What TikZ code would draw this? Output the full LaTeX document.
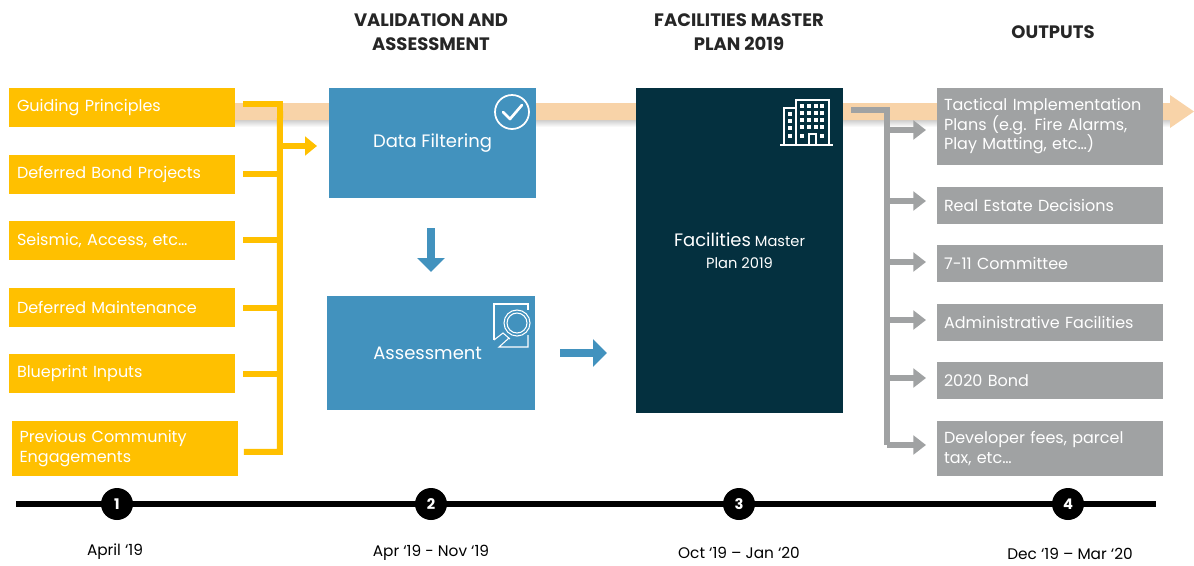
\documentclass[tikz,border=0pt]{standalone}
\usepackage{fontspec}
\setmainfont{Poppins}
\usetikzlibrary{arrows.meta}
\definecolor{yel}{HTML}{FFC000}
\definecolor{blu}{HTML}{4292BE}
\definecolor{drk}{HTML}{04303F}
\definecolor{gry}{HTML}{A0A2A3}
\definecolor{org}{HTML}{F8D3A8}
\tikzset{
  box/.style={rectangle,inner sep=0pt,text=white,align=left,font=\fontsize{12}{14.6}\selectfont},
  ybox/.style={box,fill=yel,minimum width=169.5pt,text width=157.5pt},
  gbox/.style={box,fill=gry,minimum width=169.5pt,text width=159pt},
  bbox/.style={rectangle,inner sep=0pt,fill=blu,text=white,align=center,font=\fontsize{13.5}{16}\selectfont},
  head/.style={inner sep=0pt,align=center,font=\fontsize{13.5}{18}\selectfont\bfseries,text=black!85},
  ybus/.style={draw=yel,line width=4.5pt},
  gbus/.style={draw=gry,line width=4.5pt},
  yarr/.style={ybus,-{Triangle[length=9pt,width=14pt]}},
  garr/.style={gbus,-{Triangle[length=9.5pt,width=14pt]}},
  barr/.style={draw=blu,line width=5.5pt,-{Triangle[length=10.5pt,width=20pt]}},
  icon/.style={draw=white,line width=0.8pt},
  dot/.style={circle,fill=black,minimum size=24pt,inner sep=0pt,text=white,font=\fontsize{11}{13}\selectfont\bfseries},
  date/.style={inner sep=0pt,font=\fontsize{11.5}{14}\selectfont,text=black},
}
\begin{document}
\begin{tikzpicture}[x=0.75pt,y=-0.75pt]
\useasboundingbox (0,0) rectangle (1194,565);
% band
\shade[top color=black!22,bottom color=white] (235,119) rectangle (1170,127);
\coordinate (bandL) at (235,111.5);
\coordinate (bandR) at (1194,111.5);
\fill[org] (235,103) -- (1170,103) -- (1170,95) -- (1194,111.5) -- (1170,128) -- (1170,120) -- (235,120) -- cycle;
% yellow boxes
\node[ybox,minimum height=29.25pt] (gp) at (122,107.5) {Guiding Principles};
\node[ybox,minimum height=29.25pt] (dbp) at (122,174.5) {Deferred Bond Projects};
\node[ybox,minimum height=29.25pt] (sa) at (122,240.5) {Seismic, Access, etc…};
\node[ybox,minimum height=29.25pt] (dm) at (122,307.5) {Deferred Maintenance};
\node[ybox,minimum height=29.25pt] (bi) at (122,373.5) {Blueprint Inputs};
\node[ybox,minimum height=41.25pt] (pce) at (124.5,448.5) {Previous Community\\Engagements};
% blue boxes
\node[bbox,minimum width=155.25pt,minimum height=82.5pt] (df) at (432.5,143) {Data Filtering};
\node[bbox,minimum width=156pt,minimum height=85.5pt] (as) at (431,353) {\hspace*{-5pt}Assessment};
% master plan
\node[rectangle,inner sep=0pt,fill=drk,text=white,align=center,minimum width=155.25pt,minimum height=243.75pt,font=\fontsize{11}{16.5}\selectfont] (fmp) at (739.5,250.5) {{\fontsize{13.5}{16.5}\selectfont Facilities} Master\\Plan 2019};
% grey boxes
\node[gbox,minimum height=57.75pt] (g1) at (1050,126.5) {Tactical Implementation\\Plans (e.g. Fire Alarms,\\Play Matting, etc…)};
\node[gbox,minimum height=27.75pt] (g2) at (1050,205.5) {Real Estate Decisions};
\node[gbox,minimum height=27.75pt] (g3) at (1050,263.5) {7-11 Committee};
\node[gbox,minimum height=27.75pt] (g4) at (1050,322.5) {Administrative Facilities};
\node[gbox,minimum height=27.75pt] (g5) at (1050,380.5) {2020 Bond};
\node[gbox,minimum height=41.25pt] (g6) at (1050,448.5) {Developer fees, parcel\\tax, etc…};
% yellow bus
\coordinate (yt) at (280,111);
\coordinate (yb) at (280,445);
\coordinate (ytip) at (317,146);
\draw[ybus,line cap=butt] ([xshift=6pt,yshift=2.6pt]gp.east) -| (yb);
\draw[ybus] ([xshift=6pt,yshift=0.4pt]dbp.east) -- ++(37,0);
\draw[ybus] ([xshift=6pt,yshift=0.4pt]sa.east) -- ++(37,0);
\draw[ybus] ([xshift=6pt]dm.east) -- ++(37,0);
\draw[ybus] ([xshift=6pt]bi.east) -- ++(37,0);
\draw[ybus] ([xshift=4.5pt,yshift=-2.6pt]pce.east) -- ++(36,0) -- (280,111);
\draw[yarr] (yt |- ytip) -- (ytip);
% grey bus
\coordinate (gt) at (887,110);
\coordinate (gb) at (887,445);
\draw[gbus] ([xshift=6pt,yshift=-16pt]fmp.east |- gt) ++(0,16pt) -| (gb);
\foreach \n/\yy in {a/130,b/201,c/262,d/320,e/378,f/445}{
  \coordinate (gs\n) at (887,\yy);
  \coordinate (ge\n) at (926,\yy);
  \draw[garr] (gs\n) -- (ge\n);
}
% blue arrows
\coordinate (d1) at (431,228);\coordinate (d2) at (431,272);
\draw[barr] (d1) -- (d2);
\coordinate (r1) at (560,353);\coordinate (r2) at (607,353);
\draw[barr] (r1) -- (r2);
% check icon
\draw[white,line width=1.3pt] (512,112) circle[radius=17];
\draw[white,line width=2pt,line cap=round,line join=round] (503,112) -- (510,119) -- (522,105);
% magnifier icon
\draw[icon] (494,340) -- (494,304) -- (528,304) -- (528,310);
\draw[icon] (528,335) -- (528,347) -- (499,347) -- (509,338);
\draw[icon] (494,340) -- (503,333) -- (510,339);
\draw[icon] (517,323) circle[radius=13];
\draw[icon] (517,323) circle[radius=10];
% building icon
\draw[icon] (780,145) -- (833,145);
\draw[icon] (796,145) -- (796,100) -- (829,100) -- (829,145);
\draw[icon] (796,108) -- (784,108) -- (784,145);
\draw[icon] (809,145) -- (809,134) -- (816,134) -- (816,145);
\foreach \xx in {802,809,816,822}\foreach \yy in {106,113,120,127}
  \fill[white] (\xx-2,\yy-2) rectangle (\xx+2,\yy+2);
\fill[white] (800,134) rectangle (804,138);
\fill[white] (820,134) rectangle (824,138);
\foreach \yy in {114,121,128,136}
  \fill[white] (788,\yy-2) rectangle (792,\yy+2);
% headings
\node[head] (h1) at (431,32) {VALIDATION AND\\ASSESSMENT};
\node[head] (h2) at (739,32) {FACILITIES MASTER\\PLAN 2019};
\node[head] (h3) at (1053,32) {OUTPUTS};
% timeline
\coordinate (tl) at (16,504);\coordinate (tr) at (1156,504);
\draw[line width=5pt,black] (tl) -- (tr);
\node[dot] (n1) at (117,504) {1};
\node[dot] (n2) at (431,504) {2};
\node[dot] (n3) at (739,504) {3};
\node[dot] (n4) at (1068,504) {4};
\node[date] (d-1) at (115,552) {April ‘19};
\node[date] (d-2) at (431,553) {Apr ‘19 - Nov ‘19};
\node[date] (d-3) at (739,553) {Oct ‘19 – Jan ‘20};
\node[date] (d-4) at (1070,554) {Dec ‘19 – Mar ‘20};
\end{tikzpicture}
\end{document}
